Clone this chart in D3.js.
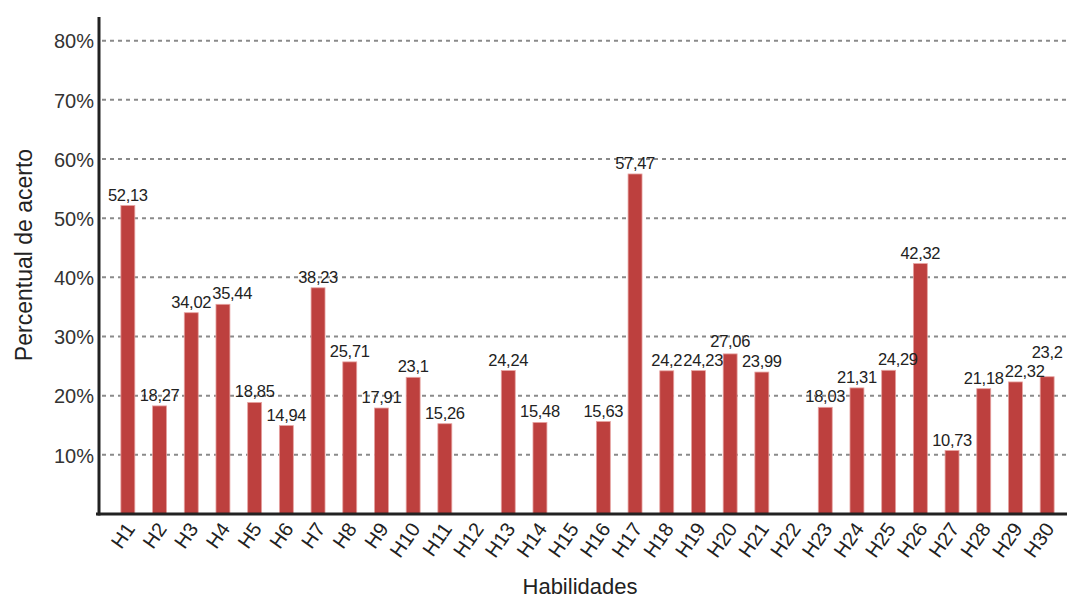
<!DOCTYPE html>
<html>
<head>
<meta charset="utf-8">
<script src="https://cdn.jsdelivr.net/npm/d3@7"></script>
<style>
  body { margin: 0; background: #fff; }
  text { font-family: "Liberation Sans", Arial, sans-serif; }
</style>
</head>
<body>
<div id="chart"></div>
<script>
// categories and values (percent of correct answers), null = no bar
const skills = ["H1","H2","H3","H4","H5","H6","H7","H8","H9","H10",
                "H11","H12","H13","H14","H15","H16","H17","H18","H19","H20",
                "H21","H22","H23","H24","H25","H26","H27","H28","H29","H30"];
const hits = [52.13, 18.27, 34.02, 35.44, 18.85, 14.94, 38.23, 25.71, 17.91, 23.1,
              15.26, null, 24.24, 15.48, null, 15.63, 57.47, 24.2, 24.23, 27.06,
              23.99, null, 18.03, 21.31, 24.29, 42.32, 10.73, 21.18, 22.32, 23.2];
const yTicks = [10, 20, 30, 40, 50, 60, 70, 80];

const width = 1072, height = 601;
const margin = {top: 17, right: 8, bottom: 87, left: 112};

const svg = d3.select("#chart").append("svg")
    .attr("width", width)
    .attr("height", height);

const x = d3.scaleBand()
    .domain(skills)
    .range([margin.left, width - margin.right - 1])
    .paddingInner(0.56)
    .paddingOuter(0.28);

const y = d3.scaleLinear()
    .domain([0, 84])
    .range([height - margin.bottom, margin.top]);

const axisX = 99;
const baseY = y(0);

// dashed grid lines
svg.append("g")
  .selectAll("line")
  .data(yTicks)
  .join("line")
    .attr("x1", axisX + 3)
    .attr("x2", 1066)
    .attr("y1", d => y(d))
    .attr("y2", d => y(d))
    .attr("stroke", "#8a8a8a")
    .attr("stroke-width", 2)
    .attr("stroke-dasharray", "4,4");

// bars
const rows = skills.map((s, i) => ({skill: s, value: hits[i]})).filter(d => d.value != null);

svg.append("g")
  .selectAll("rect")
  .data(rows)
  .join("rect")
    .attr("x", d => x(d.skill))
    .attr("y", d => y(d.value))
    .attr("width", x.bandwidth())
    .attr("height", d => baseY - y(d.value))
    .attr("fill", "#bd403e")
    .attr("stroke", "#e7a3a1")
    .attr("stroke-width", 0.8);

// value labels
const labels = svg.append("g")
  .selectAll("text")
  .data(rows)
  .join("text")
    .attr("x", d => x(d.skill) + x.bandwidth() / 2)
    .attr("y", d => y(d.value) - 5)
    .attr("text-anchor", "middle")
    .attr("font-size", 16.5)
    .attr("letter-spacing", -0.3)
    .attr("fill", "#222")
    .text(d => String(d.value).replace(".", ","));

// nudge a label right (small clash) or up (big clash) when it hits its left neighbour
let prev = null;
labels.each(function() {
  const el = d3.select(this);
  const b = this.getBBox();
  if (prev && b.x < prev.x + prev.width && b.y < prev.y + prev.height && b.y + b.height > prev.y) {
    const overX = prev.x + prev.width - b.x;
    if (overX <= 9) {
      el.attr("x", +el.attr("x") + overX + 1);
    } else {
      el.attr("y", +el.attr("y") - (b.y + b.height - prev.y + 1));
    }
  }
  prev = this.getBBox();
});

// y axis
const yAxis = svg.append("g")
    .attr("transform", "translate(" + axisX + ",0)")
    .call(d3.axisLeft(y).tickValues(yTicks).tickSize(0).tickPadding(5).tickFormat(d => d + "%"));
yAxis.select(".domain").remove();
yAxis.selectAll("text")
    .attr("font-size", 20)
    .attr("fill", "#333")
    .attr("dy", "0.36em");

svg.append("line")
    .attr("x1", axisX).attr("x2", axisX)
    .attr("y1", 17).attr("y2", baseY + 1.5)
    .attr("stroke", "#222")
    .attr("stroke-width", 3);

// x axis
const xAxis = svg.append("g")
    .attr("transform", "translate(0," + baseY + ")")
    .call(d3.axisBottom(x).tickSize(0).tickPadding(0));
xAxis.select(".domain").remove();
xAxis.selectAll("text")
    .attr("font-size", 20)
    .attr("fill", "#222")
    .attr("text-anchor", "end")
    .attr("dy", 0)
    .attr("transform", "translate(8,15) rotate(-55)");

svg.append("line")
    .attr("x1", axisX - 3).attr("x2", 1067)
    .attr("y1", baseY).attr("y2", baseY)
    .attr("stroke", "#222")
    .attr("stroke-width", 3);

// axis titles
svg.append("text")
    .attr("x", 580)
    .attr("y", 594)
    .attr("text-anchor", "middle")
    .attr("font-size", 22)
    .attr("fill", "#222")
    .text("Habilidades");

svg.append("text")
    .attr("transform", "translate(32,255) rotate(-90)")
    .attr("text-anchor", "middle")
    .attr("font-size", 23)
    .attr("fill", "#222")
    .text("Percentual de acerto");
</script>
</body>
</html>
